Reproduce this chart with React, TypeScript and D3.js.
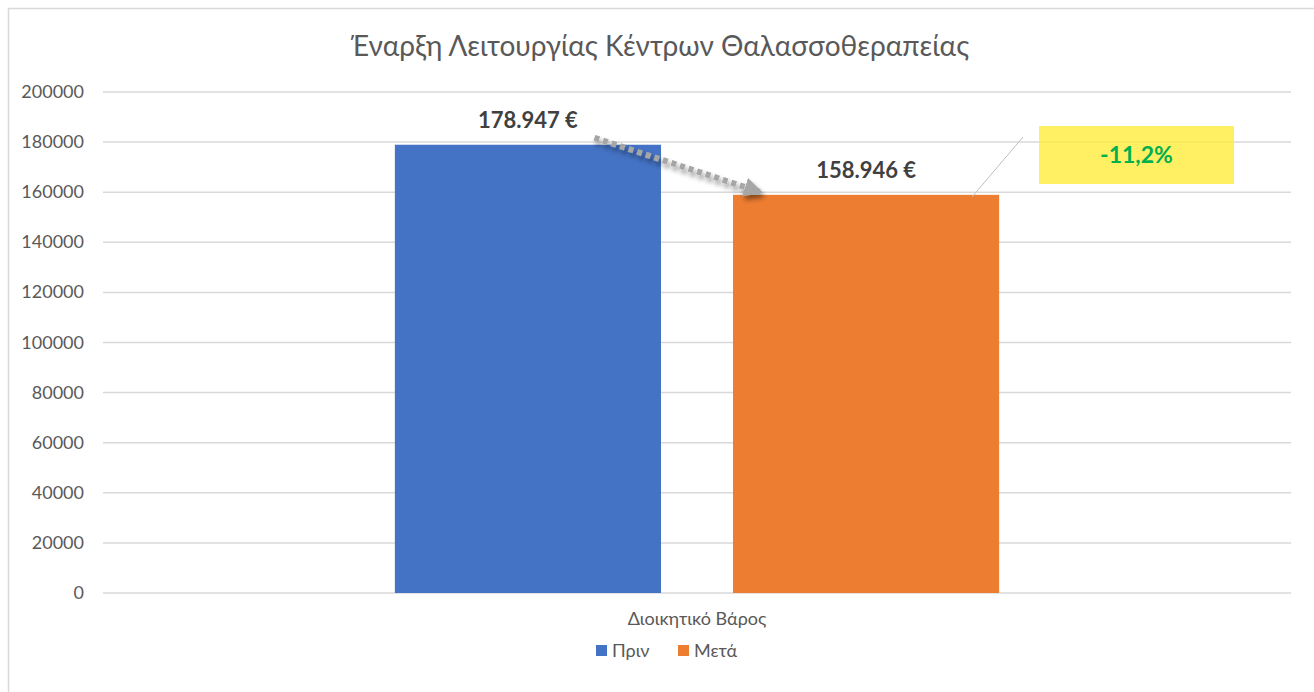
import React from "react";
import * as d3 from "d3";

const title = "Έναρξη Λειτουργίας Κέντρων Θαλασσοθεραπείας";
const categories = ["Διοικητικό Βάρος"];
const seriesNames = ["Πριν", "Μετά"];
const seriesColors = ["#4472C4", "#ED7D31"];
const values = [178947, 158946];
const valueLabels = ["178.947 €", "158.946 €"];
const yTicks = [0, 20000, 40000, 60000, 80000, 100000, 120000, 140000, 160000, 180000, 200000];
const changeLabel = "-11,2%";

const W = 1314;
const H = 692;
const FONT = "Lato, 'Open Sans', sans-serif";

export default function App() {
  const left = 103, right = 1291, top = 92, bottom = 593;
  const y = d3.scaleLinear().domain([0, 200000]).range([bottom, top]);
  const x0 = d3.scaleBand().domain(categories).range([left, right]).paddingInner(0).paddingOuter(0.483);
  const x1 = d3.scaleBand().domain(seriesNames).range([0, x0.bandwidth()]).paddingInner(0.213);
  const cat = categories[0];
  const bx = (i: number) => (x0(cat) as number) + (x1(seriesNames[i]) as number);
  const bw = x1.bandwidth();

  const ax1 = bx(0) + bw * 0.75, ay1 = y(values[0]) - 7;
  const ax2 = bx(1) + bw * 0.1, ay2 = y(values[1]) - 3;

  const calloutX = 1039, calloutY = 126, calloutW = 195, calloutH = 58;

  return (
    <svg width={W} height={H} style={{ position: "absolute", left: 0, top: 0 }}>
      <defs>
        <marker id="ah" viewBox="0 0 10 10" refX="8" refY="5" markerWidth="3.2" markerHeight="3.2" orient="auto">
          <path d="M0,0 L10,5 L0,10 Z" fill="#A6A6A6" />
        </marker>
        <filter id="sh" x="-20%" y="-50%" width="140%" height="200%">
          <feGaussianBlur in="SourceAlpha" stdDeviation="2.5" />
          <feOffset dx="2" dy="4" result="b" />
          <feComponentTransfer><feFuncA type="linear" slope="0.45" /></feComponentTransfer>
          <feMerge><feMergeNode /><feMergeNode in="SourceGraphic" /></feMerge>
        </filter>
      </defs>
      <rect x={0} y={0} width={W} height={H} fill="#fff" />
      <rect x={8.5} y={8.5} width={W + 10} height={H + 10} fill="#fff" stroke="#D9D9D9" strokeWidth={1.5} />
      <text x={660} y={56} textAnchor="middle" fontFamily={FONT} fontSize={28} fill="#595959">{title}</text>
      {yTicks.map((t) => (
        <g key={t}>
          <line x1={left} x2={right} y1={y(t)} y2={y(t)} stroke="#D9D9D9" strokeWidth={1.5} />
          <text x={84} y={y(t) + 6} textAnchor="end" fontFamily={FONT} fontSize={18} fill="#595959">{t}</text>
        </g>
      ))}
      {values.map((v, i) => (
        <g key={i}>
          <rect x={bx(i)} y={y(v)} width={bw} height={bottom - y(v)} fill={seriesColors[i]} />
          <text x={bx(i) + bw / 2} y={y(v) - 17} textAnchor="middle" fontFamily={FONT} fontWeight={700} fontSize={22} fill="#404040">{valueLabels[i]}</text>
        </g>
      ))}
      <line x1={ax1} y1={ay1} x2={ax2} y2={ay2} stroke="#A6A6A6" strokeWidth={6} strokeDasharray="5 4" markerEnd="url(#ah)" filter="url(#sh)" />
      <line x1={1023} y1={137} x2={972} y2={197} stroke="#BFBFBF" strokeWidth={1} />
      <rect x={calloutX} y={calloutY} width={calloutW} height={calloutH} fill="#FFEB3B" fillOpacity={0.8} />
      <text x={calloutX + calloutW / 2} y={calloutY + calloutH / 2 + 8} textAnchor="middle" fontFamily={FONT} fontWeight={700} fontSize={23} fill="#00B050">{changeLabel}</text>
      <text x={(x0(cat) as number) + x0.bandwidth() / 2} y={625} textAnchor="middle" fontFamily={FONT} fontSize={18} fill="#595959">{cat}</text>
      {seriesNames.map((s, i) => {
        const lx = i === 0 ? 596 : 678;
        return (
          <g key={s}>
            <rect x={lx} y={645} width={11} height={11} fill={seriesColors[i]} />
            <text x={lx + 16} y={657} fontFamily={FONT} fontSize={18} fill="#595959">{s}</text>
          </g>
        );
      })}
    </svg>
  );
}
